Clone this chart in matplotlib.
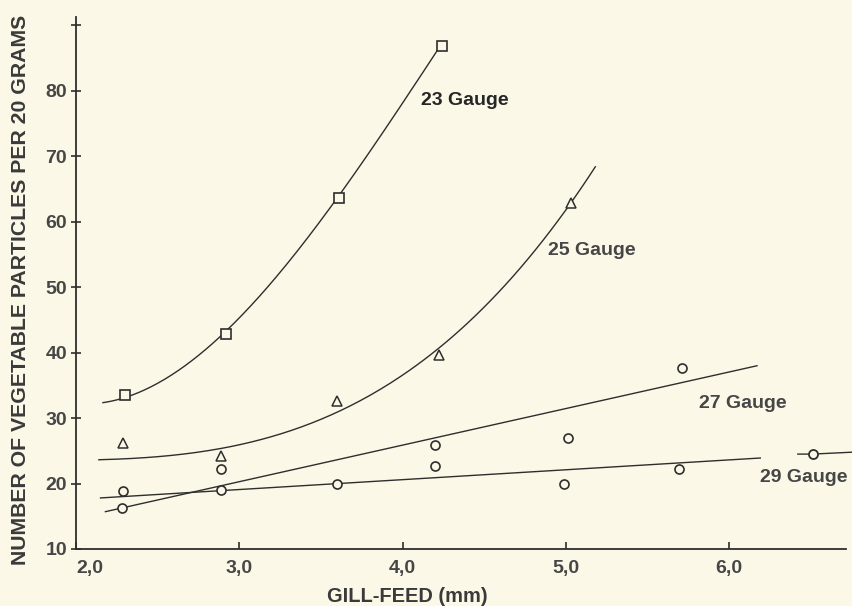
import numpy as np
import matplotlib.pyplot as plt

# gill-feed (mm) and particle counts
sq_x = [2.30, 2.92, 3.61, 4.24]
sq_y = [33.5, 42.9, 63.7, 86.9]

tri_x = [2.29, 2.89, 3.60, 4.22, 5.03]
tri_y = [26.2, 24.2, 32.6, 39.7, 62.8]

circ_x = [2.29, 2.28, 2.89, 2.89, 3.60, 4.20, 4.20, 5.01, 4.99, 5.71, 5.69]
circ_y = [18.9, 16.3, 22.2, 19.0, 19.9, 25.9, 22.7, 27.0, 19.9, 37.7, 22.2]

# points
g23_x = [2.165, 2.30, 2.61, 2.92, 3.11, 3.37, 3.61, 3.72, 4.06, 4.24]
g23_y = [32.0, 33.5, 37.4, 42.9, 48.1, 56.2, 63.7, 68.0, 80.9, 86.9]
g25_x = [2.14, 2.51, 2.89, 3.13, 3.37, 3.60, 4.22, 4.35, 4.60, 4.84, 5.03, 5.18]
g25_y = [23.8, 23.9, 25.1, 26.7, 28.7, 31.7, 39.5, 43.5, 49.9, 56.9, 62.8, 68.3]
g27_x = [2.18, 6.17]
g27_y = [15.7, 38.0]
g29_x = [2.15, 6.19]
g29_y = [17.8, 23.9]
g29_tail_x = [6.42, 6.51, 6.76]
g29_tail_y = [24.5, 24.5, 24.8]

labels = ['23 Gauge', '25 Gauge', '27 Gauge', '29 Gauge']
xticks = [2, 3, 4, 5, 6]
xticklabels = ['2,0', '3,0', '4,0', '5,0', '6,0']
yticks = [10, 20, 30, 40, 50, 60, 70, 80, 90]
yticklabels = ['10', '20', '30', '40', '50', '60', '70', '80', '']

paper = '#fbf8e7'
ink = '#2e2e2e'
txt = '#464646'
plt.rcParams['font.family'] = ['Liberation Sans', 'DejaVu Sans']

fig = plt.figure(figsize=(8.53, 6.06), dpi=100, facecolor=paper)
ax = fig.add_axes([0.0891, 0.0941, 0.9027, 0.8779], facecolor=paper)

# smooth the traced curves with a cubic
for cx, cy in [(g23_x, g23_y), (g25_x, g25_y)]:
    c = np.polyfit(cx, cy, 3)
    xx = np.linspace(cx[0], cx[-1], 200)
    ax.plot(xx, np.polyval(c, xx), color=ink, lw=1.0)
ax.plot(g27_x, g27_y, color=ink, lw=1.0)
ax.plot(g29_x, g29_y, color=ink, lw=1.0)
ax.plot(g29_tail_x, g29_tail_y, color=ink, lw=1.0, clip_on=False)
ax.plot(g29_tail_x[1], g29_tail_y[1], 'o', ms=6.5, mfc=paper, mec=ink, mew=1.3,
        clip_on=False)

ax.plot(sq_x, sq_y, 's', ms=6.5, mfc=paper, mec=ink, mew=1.2, clip_on=False)
ax.plot(tri_x, tri_y, '^', ms=7, mfc=paper, mec=ink, mew=1.1)
ax.plot(circ_x, circ_y, 'o', ms=6.5, mfc=paper, mec=ink, mew=1.2)

lab_kw = dict(fontsize=14, fontweight='bold', va='center', ha='left')
ax.text(4.113, 78.6, labels[0], color='#262626', **lab_kw)
ax.text(4.890, 55.6, labels[1], color=txt, **lab_kw)
ax.text(5.815, 32.3, labels[2], color=txt, **lab_kw)
ax.text(6.189, 20.9, labels[3], color=txt, clip_on=False, **lab_kw)

ax.set_xlim(2.0, 6.715)
ax.set_ylim(10, 91.3)
ax.set_xticks(xticks)
ax.set_xticklabels(xticklabels)
ax.set_yticks(yticks)
ax.set_yticklabels(yticklabels)
ax.get_xticklabels()[0].set_ha('left')
ax.tick_params(axis='x', direction='in', length=5, width=1.2, pad=8,
               labelsize=14, colors=ink, labelcolor=txt)
ax.tick_params(axis='y', direction='inout', length=7, width=1.2, pad=3,
               labelsize=14, colors=ink, labelcolor=txt)
for t in ax.get_xticklabels() + ax.get_yticklabels():
    t.set_fontweight('bold')

for s in ['top', 'right']:
    ax.spines[s].set_visible(False)
for s in ['left', 'bottom']:
    ax.spines[s].set_linewidth(1.3)
    ax.spines[s].set_color(ink)

fig.text(21 / 853, 1 - 290 / 606, 'NUMBER OF VEGETABLE PARTICLES PER 20 GRAMS',
         rotation=90, ha='center', va='center', fontsize=15.3,
         fontweight='bold', color='#3a3a3a')
fig.text(407 / 853, 1 - 597 / 606, 'GILL-FEED (mm)', ha='center', va='center',
         fontsize=14.4, fontweight='bold', color='#3a3a3a')

fig.savefig('out.png', dpi=100, facecolor=paper)
